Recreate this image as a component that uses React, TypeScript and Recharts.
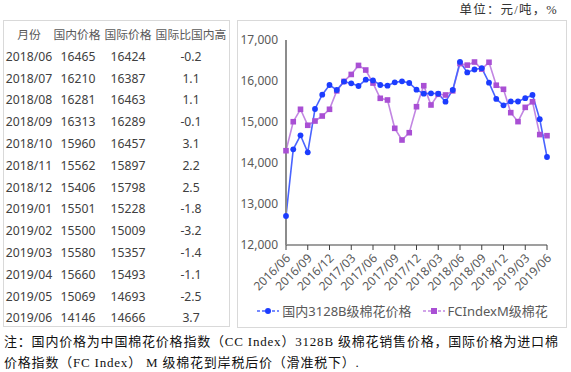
import React from "react";
import { LineChart, Line, XAxis, YAxis, Legend } from "recharts";

const months = [
  "2016/06", "2016/07", "2016/08", "2016/09", "2016/10", "2016/11", "2016/12",
  "2017/01", "2017/02", "2017/03", "2017/04", "2017/05", "2017/06", "2017/07",
  "2017/08", "2017/09", "2017/10", "2017/11", "2017/12", "2018/01", "2018/02",
  "2018/03", "2018/04", "2018/05", "2018/06", "2018/07", "2018/08", "2018/09",
  "2018/10", "2018/11", "2018/12", "2019/01", "2019/02", "2019/03", "2019/04",
  "2019/05", "2019/06",
];

// chart readings before the table period (2016/06 - 2018/05)
const domesticEarly = [
  12707, 14334, 14676, 14261, 15317, 15666, 15902, 15780, 15985, 15943, 15878, 16032,
  16015, 15902, 15885, 15967, 15992, 15951, 15788, 15690, 15700, 15690, 15495, 15780,
];
const intlEarly = [
  14300, 15007, 15310, 14920, 15024, 15146, 15310, 15760, 15990, 16160, 16380, 16268,
  15950, 15578, 15537, 14846, 14561, 14739, 15373, 15885, 15415, 15676, 15659, 15760,
];

// table (2018/06 - 2019/06)
const tableMonths = [
  "2018/06", "2018/07", "2018/08", "2018/09", "2018/10", "2018/11", "2018/12",
  "2019/01", "2019/02", "2019/03", "2019/04", "2019/05", "2019/06",
];
const tableDomestic = [16465, 16210, 16281, 16313, 15960, 15562, 15406, 15501, 15500, 15580, 15660, 15069, 14146];
const tableIntl = [16424, 16387, 16463, 16289, 16457, 15897, 15798, 15228, 15009, 15357, 15493, 14693, 14666];
const tableRatio = ["-0.2", "1.1", "1.1", "-0.1", "3.1", "2.2", "2.5", "-1.8", "-3.2", "-1.4", "-1.1", "-2.5", "3.7"];
const tableHeaders = ["月份", "国内价格", "国际价格", "国际比国内高"];

const yTicks = [12000, 13000, 14000, 15000, 16000, 17000];
const seriesNames = ["国内3128B级棉花价格", "FCIndexM级棉花"];
const unitText = "单位：元/吨，%";
const noteLine1 = "注：国内价格为中国棉花价格指数（CC Index）3128B 级棉花销售价格，国际价格为进口棉";
const noteLine2 = "价格指数（FC Index） M 级棉花到岸税后价（滑准税下）.";

const domestic = [...domesticEarly, ...tableDomestic];
const intl = [...intlEarly, ...tableIntl];
const data = months.map((m, i) => ({ month: m, domestic: domestic[i], intl: intl[i] }));

const BLUE_LINE = "#4a64ff";
const BLUE_DOT = "#1c3cff";
const PURPLE_LINE = "#c286e2";
const PURPLE_DOT = "#a94fd4";

const FONT = "'Noto Sans', 'Noto Sans CJK SC', sans-serif";
const SERIF = "'Liberation Serif', 'Noto Sans CJK SC', serif";

const XTick = (props: any) => {
  const { x, y, payload } = props;
  const ax = x + 5;
  const ay = y + 7;
  return (
    <text
      x={ax}
      y={ay}
      textAnchor="end"
      fontSize={12}
      fill="#595959"
      fontFamily={FONT}
      transform={`rotate(-45, ${ax}, ${ay})`}
    >
      {payload.value}
    </text>
  );
};

const SquareDot = (props: any) => {
  const { cx, cy, index } = props;
  if (cx == null || cy == null) return <g key={`s-${index}`} />;
  return <rect key={`s-${index}`} x={cx - 2.8} y={cy - 2.8} width={5.6} height={5.6} fill={PURPLE_DOT} />;
};

const CircleDot = (props: any) => {
  const { cx, cy, index } = props;
  if (cx == null || cy == null) return <g key={`c-${index}`} />;
  return <circle key={`c-${index}`} cx={cx} cy={cy} r={2.9} fill={BLUE_DOT} />;
};

const LegendContent = () => {
  const items = [
    { name: seriesNames[0], line: BLUE_LINE, dot: BLUE_DOT, shape: "circle" },
    { name: seriesNames[1], line: PURPLE_LINE, dot: PURPLE_DOT, shape: "square" },
  ];
  return (
    <div style={{ display: "flex", justifyContent: "center", alignItems: "center", fontFamily: FONT, fontSize: 13, color: "#595959" }}>
      {items.map((it, i) => (
        <div key={i} style={{ display: "flex", alignItems: "center", marginRight: i === 0 ? 10 : 0 }}>
          <svg width={24} height={10} style={{ marginRight: 2 }}>
            <line x1={1} y1={5} x2={23} y2={5} stroke={it.line} strokeWidth={1.5} strokeDasharray="3 2" />
            {it.shape === "circle" ? (
              <circle cx={12} cy={5} r={3} fill={it.dot} />
            ) : (
              <rect x={9} y={2} width={6} height={6} fill={it.dot} />
            )}
          </svg>
          <span>{it.name}</span>
        </div>
      ))}
    </div>
  );
};

const ROW_H = 21.8;

export default function App() {
  return (
    <div style={{ position: "absolute", left: 0, top: 0, width: 571, height: 372, background: "#fff", overflow: "hidden" }}>
      {/* unit */}
      <div style={{ position: "absolute", left: 430, top: 2, width: 128, textAlign: "right", fontFamily: SERIF, fontSize: 12.5, letterSpacing: 1.2, color: "#333", lineHeight: "16px", whiteSpace: "nowrap" }}>
        {unitText}
      </div>

      {/* table box */}
      <div style={{ position: "absolute", left: 3, top: 20, width: 227, height: 307, border: "1px solid #d9d9d9", boxSizing: "border-box" }} />
      {tableHeaders.map((h, i) => {
        const centers = [29, 77, 128, 191];
        const widths = [40, 50, 50, 74];
        return (
          <div key={h} style={{ position: "absolute", left: centers[i] - widths[i] / 2, top: 25, width: widths[i], textAlign: "center", fontFamily: FONT, fontSize: 11.8, color: "#595959", lineHeight: "18px", whiteSpace: "nowrap" }}>
            {h}
          </div>
        );
      })}
      {tableMonths.map((m, r) => {
        const top = 56.7 + r * ROW_H - 9;
        const cells = [m, String(tableDomestic[r]), String(tableIntl[r]), tableRatio[r]];
        const centers = [29, 78, 128, 191];
        return cells.map((c, i) => (
          <div key={`${r}-${i}`} style={{ position: "absolute", left: centers[i] - 30, top, width: 60, textAlign: "center", fontFamily: FONT, fontSize: 12.2, color: "#404040", lineHeight: "18px", whiteSpace: "nowrap" }}>
            {c}
          </div>
        ));
      })}

      {/* chart box */}
      <div style={{ position: "absolute", left: 237, top: 20, width: 330, height: 308, border: "1px solid #d9d9d9", boxSizing: "border-box" }} />
      <div style={{ position: "absolute", left: 237, top: 20 }}>
        <LineChart width={330} height={308} data={data} margin={{ top: 20, right: 20, bottom: 0, left: 4 }}>
          <XAxis
            dataKey="month"
            interval={2}
            height={83}
            tick={<XTick />}
            tickSize={5}
            stroke="#404040"
            axisLine={{ stroke: "#404040", strokeWidth: 1.2 }}
            tickLine={{ stroke: "#404040" }}
          />
          <YAxis
            domain={[12000, 17000]}
            ticks={yTicks}
            width={45}
            tickLine={false}
            axisLine={{ stroke: "#8c8c8c", strokeWidth: 2 }}
            tick={{ fontSize: 12, fill: "#595959", fontFamily: FONT }}
            tickFormatter={(v: number) => v.toLocaleString("en-US")}
          />
          <Legend verticalAlign="middle" align="center" layout="horizontal" content={<LegendContent />} wrapperStyle={{ top: 281, left: 0, width: 330 }} />
          <Line
            dataKey="intl"
            stroke={PURPLE_LINE}
            strokeWidth={1.6}
            dot={<SquareDot />}
            activeDot={false}
            isAnimationActive={false}
          />
          <Line
            dataKey="domestic"
            stroke={BLUE_LINE}
            strokeWidth={1.6}
            dot={<CircleDot />}
            activeDot={false}
            isAnimationActive={false}
          />
        </LineChart>
      </div>

      {/* note */}
      <div style={{ position: "absolute", left: 4, top: 331, width: 567, fontFamily: SERIF, fontSize: 13, letterSpacing: 0.8, color: "#111", lineHeight: "21px", whiteSpace: "nowrap" }}>
        <div>{noteLine1}</div>
        <div>{noteLine2}</div>
      </div>
    </div>
  );
}
